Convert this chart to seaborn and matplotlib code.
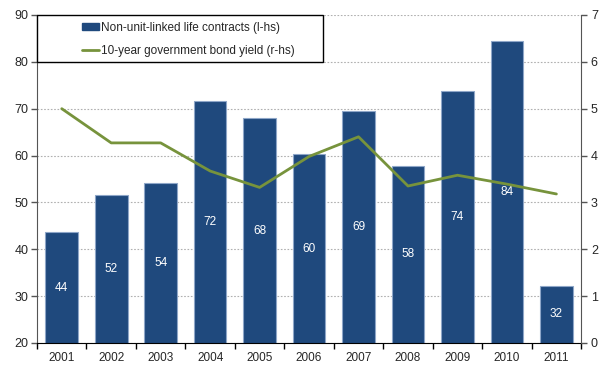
import numpy as np
import pandas as pd
import seaborn as sns
import matplotlib.pyplot as plt
from matplotlib.patches import Patch, Rectangle
from matplotlib.lines import Line2D

years = ['2001', '2002', '2003', '2004', '2005', '2006', '2007', '2008', '2009', '2010', '2011']
contracts = [43.6, 51.6, 54.2, 71.6, 68.0, 60.3, 69.4, 57.8, 73.7, 84.4, 32.2]
bond_yield = [5.0, 4.27, 4.27, 3.67, 3.32, 3.98, 4.40, 3.35, 3.58, 3.39, 3.18]

bar_color = '#1F497D'
line_color = '#77933C'

sns.set_style('white')
plt.rcParams['font.family'] = ['Liberation Sans', 'DejaVu Sans']

df = pd.DataFrame({'year': years, 'contracts': contracts, 'yield': bond_yield})
df['pos'] = np.arange(len(years))

fig, ax = plt.subplots(figsize=(6.13, 3.65), dpi=100)
fig.subplots_adjust(left=0.0604, right=0.948, top=0.959, bottom=0.0603)

# bars on left axis
sns.barplot(data=df, x='year', y='contracts', color=bar_color, width=0.66,
            saturation=1, edgecolor='#8EA6C8', linewidth=0.8, ax=ax, zorder=2)
ax.set_ylim(20, 90)
ax.set_xlim(-0.5, len(years) - 0.5)
ax.set_yticks(range(20, 91, 10))
ax.set_xlabel('')
ax.set_ylabel('')

# value labels in the middle of each bar
for i, v in enumerate(contracts):
    ax.text(i, (20 + v) / 2, f'{v:.0f}', color='white', ha='center', va='center',
            fontsize=8.5, zorder=4)

# dotted grid
ax.yaxis.grid(True, linestyle=(0, (1.5, 1.5)), color='#B0B0B0', linewidth=0.8, zorder=0)
ax.set_axisbelow(True)

# line on right axis
ax2 = ax.twinx()
sns.lineplot(data=df, x='pos', y='yield', color=line_color, linewidth=2, ax=ax2)
ax2.set_ylim(0, 7)
ax2.set_yticks(range(0, 8))
ax2.set_ylabel('')
ax2.set_xlim(-0.5, len(years) - 0.5)

# spines and ticks
for a in (ax, ax2):
    a.spines['top'].set_visible(False)
ax.spines['left'].set_color('#555555')
ax.spines['bottom'].set_color('black')
ax.spines['right'].set_visible(False)
ax2.spines['left'].set_visible(False)
ax2.spines['bottom'].set_visible(False)
ax2.spines['right'].set_color('#555555')

ax.tick_params(axis='y', left=True, length=4, width=1, color='#555555', labelsize=9, pad=2)
ax2.tick_params(axis='y', right=True, length=4, width=1, color='#555555', labelsize=9, pad=3)
ax.set_xticks(np.arange(len(years)))
ax.set_xticklabels(years)
ax.set_xticks(np.arange(len(years) + 1) - 0.5, minor=True)
ax.tick_params(axis='x', which='major', bottom=False, labelsize=8.5, pad=3)
ax.tick_params(axis='x', which='minor', bottom=True, length=4, width=1, color='black')

# legend: white box with black frame, entries inset
box = Rectangle((0, 0.857), 0.526, 0.143, transform=ax2.transAxes, facecolor='white',
                edgecolor='black', linewidth=1, zorder=4, clip_on=False)
ax2.add_patch(box)
handles = [Patch(facecolor=bar_color, edgecolor=bar_color),
           Line2D([0], [0], color=line_color, linewidth=2)]
labels = ['Non-unit-linked life contracts (l-hs)', '10-year government bond yield (r-hs)']
leg = ax2.legend(handles, labels, loc='upper left', bbox_to_anchor=(0.083, 0.98),
                 fontsize=8.5, frameon=False, borderpad=0, borderaxespad=0,
                 handlelength=1.45, handleheight=0.55, handletextpad=0.15,
                 labelspacing=1.0)
leg.set_zorder(5)

fig.savefig('out.png', dpi=100)
